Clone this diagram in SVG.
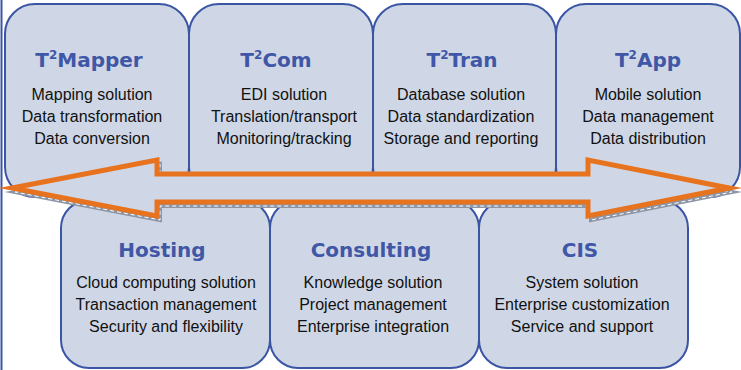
<svg xmlns="http://www.w3.org/2000/svg" width="741" height="370" viewBox="0 0 741 370">
<style>
.box{fill:#CFD7E6;stroke:#3B55A5;stroke-width:2}
.title{font-family:"DejaVu Sans",Verdana,sans-serif;font-weight:bold;font-size:20px;fill:#3F57A6;text-anchor:middle}
.sup{font-size:12px}
.body{font-family:"Liberation Sans",Arial,sans-serif;font-size:16px;fill:#111;text-anchor:middle}
</style>
<rect width="741" height="370" fill="#fff"/>
<line x1="1.5" y1="0" x2="1.5" y2="370" stroke="#3B55A5" stroke-width="2"/>
<g id="t2mapper">
<rect class="box" x="5" y="4" width="184" height="193" rx="30"/>
<text class="title" x="89" y="67">T<tspan class="sup" dy="-8">2</tspan><tspan dy="8">Mapper</tspan></text>
<text class="body" x="92" y="100">Mapping solution</text>
<text class="body" x="92" y="122">Data transformation</text>
<text class="body" x="92" y="144">Data conversion</text>
</g>
<g id="t2com">
<rect class="box" x="189" y="4" width="184" height="193" rx="30"/>
<text class="title" x="276" y="67">T<tspan class="sup" dy="-8">2</tspan><tspan dy="8">Com</tspan></text>
<text class="body" x="284" y="100">EDI solution</text>
<text class="body" x="284" y="122">Translation/transport</text>
<text class="body" x="284" y="144">Monitoring/tracking</text>
</g>
<g id="t2tran">
<rect class="box" x="373" y="4" width="183" height="193" rx="30"/>
<text class="title" x="462" y="67">T<tspan class="sup" dy="-8">2</tspan><tspan dy="8">Tran</tspan></text>
<text class="body" x="461" y="100">Database solution</text>
<text class="body" x="461" y="122">Data standardization</text>
<text class="body" x="461" y="144">Storage and reporting</text>
</g>
<g id="t2app">
<rect class="box" x="556" y="4" width="184" height="193" rx="30"/>
<text class="title" x="648" y="67">T<tspan class="sup" dy="-8">2</tspan><tspan dy="8">App</tspan></text>
<text class="body" x="648" y="100">Mobile solution</text>
<text class="body" x="648" y="122">Data management</text>
<text class="body" x="648" y="144">Data distribution</text>
</g>
<g id="hosting">
<rect class="box" x="61" y="200" width="209" height="168" rx="28"/>
<text class="title" x="162" y="257">Hosting</text>
<text class="body" x="166" y="288">Cloud computing solution</text>
<text class="body" x="166" y="310">Transaction management</text>
<text class="body" x="166" y="332">Security and flexibility</text>
</g>
<g id="consulting">
<rect class="box" x="270" y="200" width="209" height="168" rx="28"/>
<text class="title" x="371" y="257">Consulting</text>
<text class="body" x="373" y="288">Knowledge solution</text>
<text class="body" x="373" y="310">Project management</text>
<text class="body" x="373" y="332">Enterprise integration</text>
</g>
<g id="cis">
<rect class="box" x="479" y="200" width="209" height="168" rx="28"/>
<text class="title" x="580" y="257">CIS</text>
<text class="body" x="582" y="288">System solution</text>
<text class="body" x="582" y="310">Enterprise customization</text>
<text class="body" x="582" y="332">Service and support</text>
</g>
<g id="connectors">
<g transform="translate(3,4)">
<polygon points="12,188 157,160 157,174 588,174 588,160 729,188 588,216 588,202 157,202 157,216" fill="#8D96A6" stroke="#8D96A6" stroke-width="4" stroke-linejoin="miter" stroke-miterlimit="10"/>
<polygon points="12,188 157,160 157,174 588,174 588,160 729,188 588,216 588,202 157,202 157,216" fill="none" stroke="#fff" stroke-width="1" stroke-dasharray="4 3"/>
</g>
<polygon points="12,188 157,160 157,174 588,174 588,160 729,188 588,216 588,202 157,202 157,216" fill="#CFD7E6" stroke="#E8731F" stroke-width="5" stroke-linejoin="miter" stroke-miterlimit="10"/>
</g>
</svg>
